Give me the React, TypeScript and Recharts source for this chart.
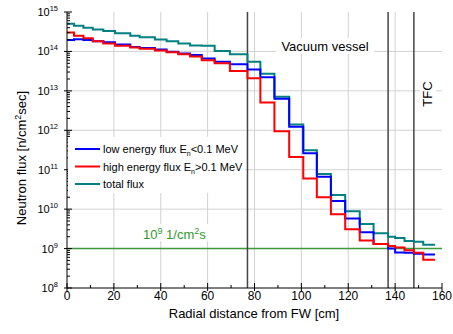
import React from "react";
import { LineChart, Line, XAxis, YAxis, CartesianGrid, ReferenceLine } from "recharts";

const FONT = "'Liberation Sans', Arial, sans-serif";

// bin start positions [cm] of the step curves
const distance = [0, 3, 7, 11, 15.5, 20.5, 27, 31, 37.5, 42.5, 47.5, 52.5, 57.5, 63, 69.5, 77, 82.5, 88.5, 94.8, 100.8, 106.6, 112.6, 118.7, 124.9, 130.8, 137, 140, 144, 148, 152, 157];
// neutron flux [n/cm2 sec]
const lowEnergy = [1.95e14, 2.05e14, 1.95e14, 1.8e14, 1.7e14, 1.5e14, 1.3e14, 1.23e14, 1.12e14, 9.8e13, 8.9e13, 8.1e13, 6.6e13, 5.5e13, 4.7e13, 3.5e13, 2.2e13, 6.3e12, 1.23e12, 2.6e11, 6.6e10, 1.6e10, 5.8e9, 2.6e9, 1.3e9, 1.0e9, 8.0e8, 7.8e8, 7.4e8, 7.1e8, 7.1e8];
const highEnergy = [3.0e14, 2.5e14, 2.15e14, 1.8e14, 1.6e14, 1.4e14, 1.25e14, 1.17e14, 1.05e14, 9.5e13, 8.5e13, 7.4e13, 6.0e13, 5.0e13, 3.2e13, 2.1e13, 5.1e12, 9.5e11, 2.1e11, 6.0e10, 2.0e10, 7.4e9, 3.1e9, 1.6e9, 1.3e9, 1.17e9, 1.07e9, 9.1e8, 7.8e8, 5.2e8, 5.2e8];
const totalFlux = [5.0e14, 4.5e14, 4.0e14, 3.6e14, 3.3e14, 2.9e14, 2.5e14, 2.3e14, 2.0e14, 1.8e14, 1.6e14, 1.42e14, 1.4e14, 1.02e14, 8.5e13, 5.5e13, 2.7e13, 7.1e12, 1.4e12, 3.1e11, 7.8e10, 2.3e10, 8.9e9, 4.2e9, 2.45e9, 2.0e9, 1.85e9, 1.55e9, 1.5e9, 1.25e9, 1.25e9];

const xTicks = [0, 10, 20, 30, 40, 50, 60, 70, 80, 90, 100, 110, 120, 130, 140, 150, 160];
const xGrid = [20, 40, 60, 80, 100, 120, 140];
const yDecades = [1e8, 1e9, 1e10, 1e11, 1e12, 1e13, 1e14, 1e15];
const yMinor = [2, 3, 4, 5, 6, 7, 8, 9];
const wallLines = [77, 137, 148];
const fluxLimit = 1e9;

const yTicks = [
  ...yDecades,
  ...yDecades.slice(0, -1).flatMap((d) => yMinor.map((m) => m * d)),
].sort((a, b) => a - b);

const data = distance.map((x, i) => ({
  x,
  low: lowEnergy[i],
  high: highEnergy[i],
  total: totalFlux[i],
}));

const isDecade = (v: number) => yDecades.some((d) => Math.abs(d - v) < d * 1e-6);

function YTick(props: any) {
  const { x, y, payload, side } = props;
  const v = payload.value;
  const major = isDecade(v);
  const dir = side === "left" ? 1 : -1;
  const exp = Math.round(Math.log10(v));
  return (
    <g>
      <line
        x1={x - (major ? 3 : 0) * dir}
        x2={x + (major ? 5 : 3) * dir}
        y1={y}
        y2={y}
        stroke="#000"
      />
      {major && side === "left" && (
        <text x={x - 9} y={y + 4} textAnchor="end" fontSize={11} fontFamily={FONT} fill="#000">
          10
          <tspan dy={-5} fontSize={7.5}>
            {exp}
          </tspan>
        </text>
      )}
    </g>
  );
}

function XTick(props: any) {
  const { x, y, payload, side } = props;
  const v = payload.value;
  const major = v % 20 === 0;
  const dir = side === "bottom" ? -1 : 1;
  return (
    <g>
      <line
        x1={x}
        x2={x}
        y1={y - (major ? 3 : 0) * dir}
        y2={y + (major ? 5 : 3) * dir}
        stroke="#000"
      />
      {major && side === "bottom" && (
        <text x={x} y={y + 12} textAnchor="middle" fontSize={12} fontFamily={FONT} fill="#000">
          {v}
        </text>
      )}
    </g>
  );
}

const legendItems = [
  { color: "#0000ff", main: "low energy flux E", rest: "<0.1 MeV" },
  { color: "#ff0000", main: "high energy flux E", rest: ">0.1 MeV" },
  { color: "#008080", main: "total flux", rest: "" },
];

export default function App() {
  return (
    <div style={{ position: "absolute", left: 0, top: 0, width: 453, height: 334, background: "#fff" }}>
      <LineChart
        width={453}
        height={334}
        data={data}
        margin={{ top: 12, right: 11, bottom: 0, left: 0 }}
        style={{ fontFamily: FONT }}
      >
        <CartesianGrid
          stroke="#d2d2d2"
          horizontalValues={yDecades.slice(1, -1)}
          verticalValues={xGrid}
        />
        <XAxis
          dataKey="x"
          type="number"
          domain={[0, 160]}
          ticks={xTicks}
          allowDataOverflow
          height={46}
          tickSize={0}
          tickMargin={0}
          tickLine={false}
          axisLine={{ stroke: "#000" }}
          tick={(p: any) => <XTick {...p} side="bottom" />}
          interval={0}
        />
        <XAxis
          xAxisId="top"
          orientation="top"
          type="number"
          domain={[0, 160]}
          ticks={xTicks}
          height={0}
          tickSize={0}
          tickMargin={0}
          tickLine={false}
          axisLine={{ stroke: "#000" }}
          tick={(p: any) => <XTick {...p} side="top" />}
          interval={0}
        />
        <YAxis
          type="number"
          scale="log"
          domain={[1e8, 1e15]}
          ticks={yTicks}
          allowDataOverflow
          width={67}
          tickSize={0}
          tickMargin={0}
          tickLine={false}
          axisLine={{ stroke: "#000" }}
          tick={(p: any) => <YTick {...p} side="left" />}
          interval={0}
        />
        <YAxis
          yAxisId="right"
          orientation="right"
          type="number"
          scale="log"
          domain={[1e8, 1e15]}
          ticks={yTicks}
          allowDataOverflow
          width={0}
          tickSize={0}
          tickMargin={0}
          tickLine={false}
          axisLine={{ stroke: "#000" }}
          tick={(p: any) => <YTick {...p} side="right" />}
          interval={0}
        />
        <ReferenceLine y={fluxLimit} stroke="#3c9a3c" strokeWidth={1.5} />
        {wallLines.map((w) => (
          <ReferenceLine key={w} x={w} stroke="#444" strokeWidth={1.5} />
        ))}
        <Line type="stepAfter" dataKey="total" stroke="#008080" strokeWidth={2} dot={false} isAnimationActive={false} />
        <Line type="stepAfter" dataKey="low" stroke="#0000ff" strokeWidth={2} dot={false} isAnimationActive={false} />
        <Line type="stepAfter" dataKey="high" stroke="#ff0000" strokeWidth={2} dot={false} isAnimationActive={false} />
      </LineChart>

      <svg
        width={453}
        height={334}
        style={{ position: "absolute", left: 0, top: 0, pointerEvents: "none" }}
        fontFamily={FONT}
      >
        <rect x={68} y={137} width={177} height={56} fill="#fff" />
        {legendItems.map((item, i) => {
          const cy = 149 + i * 17.5;
          return (
            <g key={item.main}>
              <line x1={75} x2={100} y1={cy} y2={cy} stroke={item.color} strokeWidth={2} />
              <text x={103} y={cy + 4} fontSize={11} fill="#000">
                {item.main}
                {item.rest && (
                  <>
                    <tspan dy={3} fontSize={7}>
                      n
                    </tspan>
                    <tspan dy={-3}>{item.rest}</tspan>
                  </>
                )}
              </text>
            </g>
          );
        })}

        <rect x={276} y={38} width={98} height={16} fill="#fff" />
        <text x={325} y={51} textAnchor="middle" fontSize={13} fill="#000">
          Vacuum vessel
        </text>

        <rect x={420} y={76} width={16} height={36} fill="#fff" />
        <text transform="translate(432,94) rotate(-90)" textAnchor="middle" fontSize={13} fill="#000">
          TFC
        </text>

        <rect x={141} y={224} width={98} height={17} fill="#fff" />
        <text x={143} y={239} fontSize={13} fill="#2f9a2f">
          10
          <tspan dy={-5} fontSize={9}>
            9
          </tspan>
          <tspan dy={5}> 1/cm</tspan>
          <tspan dy={-5} fontSize={9}>
            2
          </tspan>
          <tspan dy={5}>s</tspan>
        </text>

        <text transform="translate(26,158) rotate(-90)" textAnchor="middle" fontSize={13} fill="#000">
          Neutron flux [n/cm
          <tspan dy={-5} fontSize={9}>
            2
          </tspan>
          <tspan dy={5}>sec]</tspan>
        </text>

        <text x={254} y={318} textAnchor="middle" fontSize={13} fill="#000">
          Radial distance from FW [cm]
        </text>
      </svg>
    </div>
  );
}
